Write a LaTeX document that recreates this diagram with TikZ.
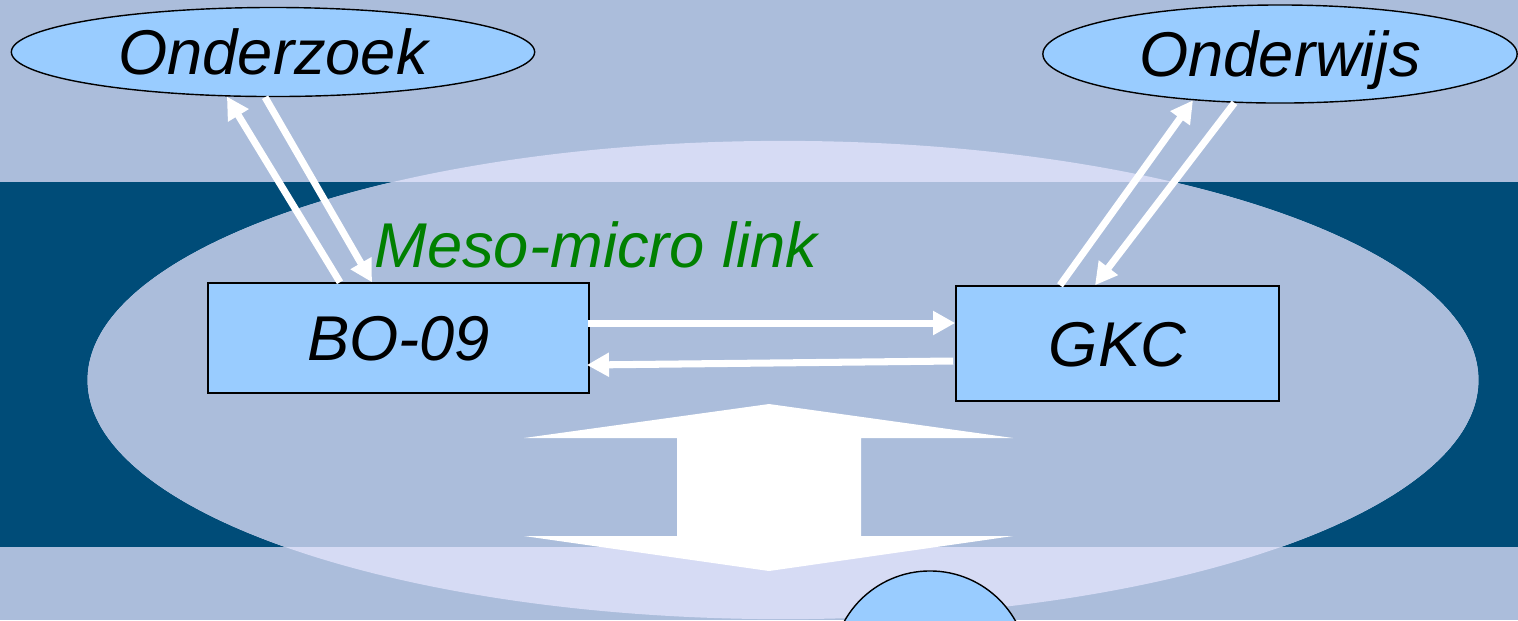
\documentclass[tikz,border=0pt]{standalone}
\usepackage{fontspec}
\setmainfont{Liberation Sans}
\usetikzlibrary{arrows.meta,calc,shapes.geometric}

\definecolor{achtergrond}{RGB}{171,189,219}
\definecolor{band}{RGB}{0,76,120}
\definecolor{lavendel}{RGB}{214,219,244}
\definecolor{vak}{RGB}{153,204,255}
\definecolor{groen}{RGB}{0,128,0}

\tikzset{
  tekst/.style={font=\fontsize{18}{22}\selectfont\itshape},
  vakje/.style={tekst, draw=black, line width=0.4pt, fill=vak, inner sep=0pt,
    text height=12.9pt, text depth=0pt},
  ovaal/.style={vakje, ellipse},
  pijl/.style={white, line width=2pt, -{Triangle[length=6.3pt,width=6.5pt]}},
}

\begin{document}
\begin{tikzpicture}[x=0.01cm, y=-0.01cm]
    \useasboundingbox (0,0) rectangle (1518,620);
    \clip (0,0) rectangle (1518,620);

    % Background and band
    \fill[achtergrond] (0,0) rectangle (1518,620);
    \fill[band] (0,182) rectangle (1518,547);

    % Large ellipse
    \fill[lavendel] (783,380) ellipse [x radius=6.95cm, y radius=2.39cm];
    \begin{scope}
        \clip (783,380) ellipse [x radius=6.95cm, y radius=2.39cm];
        \fill[achtergrond] (0,182) rectangle (1518,547);
    \end{scope}

    % Nodes
    \node[ovaal, minimum width=5.23cm, minimum height=0.89cm] (onderzoek) at (273,52) {Onderzoek};
    \node[ovaal, minimum width=4.74cm, minimum height=0.98cm] (onderwijs) at (1280,54) {Onderwijs};
    \node[vakje, minimum width=3.81cm, minimum height=1.10cm] (bo) at (398.5,338) {BO-09};
    \node[vakje, minimum width=3.23cm, minimum height=1.15cm] (gkc) at (1117.5,343.5) {GKC};
    \node[tekst, text=groen, anchor=base] (meso) at (596,267) {Meso-micro link};

    % Arrows up and down
    \draw[pijl] ($(bo.north)+(-58.5,0)$) -- (onderzoek.224);
    \draw[pijl] (onderzoek.260) -- ($(bo.north)+(-26.5,0)$);
    \draw[pijl] ($(gkc.north)+(-57.5,0)$) -- (onderwijs.208);
    \draw[pijl] (onderwijs.227) -- ($(gkc.north)+(-22.5,0)$);

    % Arrows between the boxes
    \draw[pijl] ($(bo.east)+(-2,-15)$) -- ($(gkc.west)+(0,-20.5)$);
    \draw[pijl] ($(gkc.west)+(-2,17.5)$) -- ($(bo.east)+(-3,27)$);

    % Big double arrow
    \fill[white] (769,404) -- (1013,438) -- (861,438) -- (861,536) -- (1013,536)
        -- (769,571) -- (524,536) -- (677,536) -- (677,438) -- (524,438) -- cycle;

    % Circle at the bottom
    \filldraw[fill=vak, draw=black, line width=0.4pt] (930,669) circle [radius=0.98cm];
\end{tikzpicture}
\end{document}
